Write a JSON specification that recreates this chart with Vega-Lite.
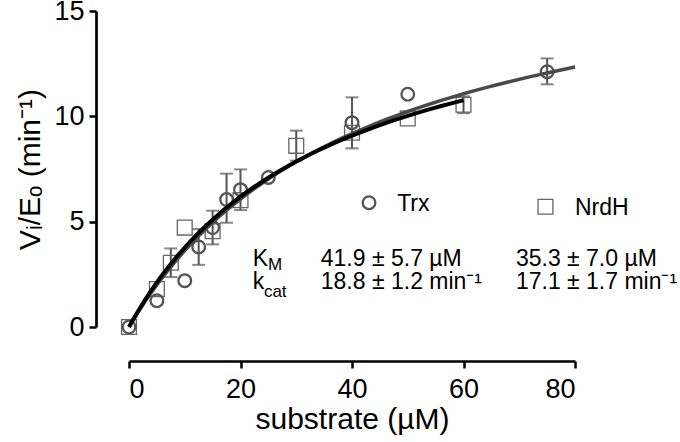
{
  "$schema": "https://vega.github.io/schema/vega-lite/v6.json",
  "width": 446,
  "height": 316,
  "autosize": {"type": "none"},
  "padding": {"left": 129, "top": 11, "right": 105, "bottom": 115},
  "background": "white",
  "config": {
    "view": {"stroke": null},
    "font": "Liberation Sans",
    "axis": {"grid": false, "domainColor": "black", "domainWidth": 2.7, "tickColor": "black", "tickWidth": 2.5, "tickSize": 7, "labelColor": "black", "labelFont": "Liberation Sans", "labelFontSize": 27, "titleFont": "Liberation Sans", "titleFontSize": 30, "titleFontWeight": "normal", "titleColor": "black"}
  },
  "datasets": {
    "curves": [
      {"series": "Trx", "s": 0, "v": 0}, {"series": "Trx", "s": 2, "v": 0.857}, {"series": "Trx", "s": 4, "v": 1.638}, {"series": "Trx", "s": 6, "v": 2.355}, {"series": "Trx", "s": 8, "v": 3.014}, {"series": "Trx", "s": 10, "v": 3.622}, {"series": "Trx", "s": 12, "v": 4.186}, {"series": "Trx", "s": 14, "v": 4.708}, {"series": "Trx", "s": 16, "v": 5.195}, {"series": "Trx", "s": 18, "v": 5.649}, {"series": "Trx", "s": 20, "v": 6.074}, {"series": "Trx", "s": 22, "v": 6.473}, {"series": "Trx", "s": 24, "v": 6.847}, {"series": "Trx", "s": 26, "v": 7.199}, {"series": "Trx", "s": 28, "v": 7.531}, {"series": "Trx", "s": 30, "v": 7.844}, {"series": "Trx", "s": 32, "v": 8.141}, {"series": "Trx", "s": 34, "v": 8.422}, {"series": "Trx", "s": 36, "v": 8.688}, {"series": "Trx", "s": 38, "v": 8.941}, {"series": "Trx", "s": 40, "v": 9.182}, {"series": "Trx", "s": 42, "v": 9.411}, {"series": "Trx", "s": 44, "v": 9.630}, {"series": "Trx", "s": 46, "v": 9.839}, {"series": "Trx", "s": 48, "v": 10.038}, {"series": "Trx", "s": 50, "v": 10.229}, {"series": "Trx", "s": 52, "v": 10.411}, {"series": "Trx", "s": 54, "v": 10.586}, {"series": "Trx", "s": 56, "v": 10.754}, {"series": "Trx", "s": 58, "v": 10.915}, {"series": "Trx", "s": 60, "v": 11.070}, {"series": "Trx", "s": 64, "v": 11.362}, {"series": "Trx", "s": 68, "v": 11.632}, {"series": "Trx", "s": 72, "v": 11.884}, {"series": "Trx", "s": 76, "v": 12.119}, {"series": "Trx", "s": 80, "v": 12.338},
      {"series": "NrdH", "s": 0, "v": 0}, {"series": "NrdH", "s": 1, "v": 0.471}, {"series": "NrdH", "s": 2, "v": 0.917}, {"series": "NrdH", "s": 4, "v": 1.740}, {"series": "NrdH", "s": 6, "v": 2.484}, {"series": "NrdH", "s": 8, "v": 3.159}, {"series": "NrdH", "s": 10, "v": 3.775}, {"series": "NrdH", "s": 12, "v": 4.338}, {"series": "NrdH", "s": 14, "v": 4.856}, {"series": "NrdH", "s": 16, "v": 5.333}, {"series": "NrdH", "s": 18, "v": 5.775}, {"series": "NrdH", "s": 20, "v": 6.184}, {"series": "NrdH", "s": 22, "v": 6.565}, {"series": "NrdH", "s": 24, "v": 6.921}, {"series": "NrdH", "s": 26, "v": 7.253}, {"series": "NrdH", "s": 28, "v": 7.564}, {"series": "NrdH", "s": 30, "v": 7.856}, {"series": "NrdH", "s": 32, "v": 8.131}, {"series": "NrdH", "s": 34, "v": 8.390}, {"series": "NrdH", "s": 36, "v": 8.634}, {"series": "NrdH", "s": 38, "v": 8.865}, {"series": "NrdH", "s": 40, "v": 9.084}, {"series": "NrdH", "s": 42, "v": 9.291}, {"series": "NrdH", "s": 44, "v": 9.488}, {"series": "NrdH", "s": 46, "v": 9.675}, {"series": "NrdH", "s": 48, "v": 9.854}, {"series": "NrdH", "s": 50, "v": 10.023}, {"series": "NrdH", "s": 52, "v": 10.186}, {"series": "NrdH", "s": 54, "v": 10.341}, {"series": "NrdH", "s": 56, "v": 10.489}, {"series": "NrdH", "s": 58, "v": 10.630}, {"series": "NrdH", "s": 60, "v": 10.766}
    ],
    "points": [
      {"series": "Trx", "s": 0, "v": 0},
      {"series": "Trx", "s": 5, "v": 1.25},
      {"series": "Trx", "s": 10, "v": 2.2},
      {"series": "Trx", "s": 12.5, "v": 3.8, "lo": 2.95, "hi": 4.65},
      {"series": "Trx", "s": 15, "v": 4.72, "lo": 3.92, "hi": 5.52},
      {"series": "Trx", "s": 17.5, "v": 6.05, "lo": 4.95, "hi": 7.28},
      {"series": "Trx", "s": 20, "v": 6.52, "lo": 5.55, "hi": 7.48},
      {"series": "Trx", "s": 25, "v": 7.1},
      {"series": "Trx", "s": 40, "v": 9.7, "lo": 8.48, "hi": 10.9},
      {"series": "Trx", "s": 50, "v": 11.05},
      {"series": "Trx", "s": 75, "v": 12.12, "lo": 11.52, "hi": 12.75},
      {"series": "NrdH", "s": 0, "v": 0},
      {"series": "NrdH", "s": 5, "v": 1.8},
      {"series": "NrdH", "s": 7.5, "v": 3.05, "lo": 2.37, "hi": 3.73},
      {"series": "NrdH", "s": 10, "v": 4.72},
      {"series": "NrdH", "s": 15, "v": 4.55},
      {"series": "NrdH", "s": 20, "v": 6.02},
      {"series": "NrdH", "s": 30, "v": 8.6, "lo": 7.9, "hi": 9.32},
      {"series": "NrdH", "s": 40, "v": 9.22},
      {"series": "NrdH", "s": 50, "v": 9.9},
      {"series": "NrdH", "s": 60, "v": 10.55, "lo": 10.15, "hi": 10.95}
    ]
  },
  "layer": [
    {
      "data": {"name": "points"},
      "transform": [{"filter": "isValid(datum.lo)"}],
      "mark": {"type": "rule", "color": "#555555", "strokeWidth": 2},
      "encoding": {
        "x": {"field": "s", "type": "quantitative", "scale": {"domain": [0, 80], "nice": false, "zero": false}, "axis": {"values": [0, 20, 40, 60, 80], "offset": 34, "labelPadding": 8, "titlePadding": 2, "title": "substrate (µM)"}},
        "y": {"field": "lo", "type": "quantitative", "scale": {"domain": [0, 15], "nice": false}, "axis": {"values": [0, 5, 10, 15], "offset": 33, "labelPadding": 5, "titlePadding": 8, "title": "Vᵢ/Eₒ (min⁻¹)"}},
        "y2": {"field": "hi"}
      }
    },
    {
      "data": {"name": "points"},
      "transform": [{"filter": "isValid(datum.lo)"}],
      "mark": {"type": "tick", "orient": "horizontal", "color": "#555555", "thickness": 2, "size": 13},
      "encoding": {
        "x": {"field": "s", "type": "quantitative"},
        "y": {"field": "lo", "type": "quantitative"}
      }
    },
    {
      "data": {"name": "points"},
      "transform": [{"filter": "isValid(datum.hi)"}],
      "mark": {"type": "tick", "orient": "horizontal", "color": "#555555", "thickness": 2, "size": 13},
      "encoding": {
        "x": {"field": "s", "type": "quantitative"},
        "y": {"field": "hi", "type": "quantitative"}
      }
    },
    {
      "data": {"name": "points"},
      "transform": [{"filter": "datum.series == 'NrdH'"}],
      "mark": {"type": "point", "shape": "square", "filled": false, "stroke": "#666666", "strokeWidth": 1.3, "size": 220, "opacity": 1},
      "encoding": {
        "x": {"field": "s", "type": "quantitative"},
        "y": {"field": "v", "type": "quantitative"}
      }
    },
    {
      "data": {"name": "points"},
      "transform": [{"filter": "datum.series == 'Trx'"}],
      "mark": {"type": "point", "shape": "circle", "filled": false, "stroke": "#555555", "strokeWidth": 2.3, "size": 160, "opacity": 1},
      "encoding": {
        "x": {"field": "s", "type": "quantitative"},
        "y": {"field": "v", "type": "quantitative"}
      }
    },
    {
      "data": {"name": "curves"},
      "transform": [{"filter": "datum.series == 'Trx'"}],
      "mark": {"type": "line", "color": "#4a4a4a", "strokeWidth": 3.5, "interpolate": "monotone"},
      "encoding": {
        "x": {"field": "s", "type": "quantitative"},
        "y": {"field": "v", "type": "quantitative"}
      }
    },
    {
      "data": {"name": "curves"},
      "transform": [{"filter": "datum.series == 'NrdH'"}],
      "mark": {"type": "line", "color": "#000000", "strokeWidth": 4, "interpolate": "monotone"},
      "encoding": {
        "x": {"field": "s", "type": "quantitative"},
        "y": {"field": "v", "type": "quantitative"}
      }
    },
    {
      "data": {"values": [{"s": 43.05, "v": 5.9}]},
      "mark": {"type": "point", "shape": "circle", "filled": false, "stroke": "#555555", "strokeWidth": 2.3, "size": 160, "opacity": 1},
      "encoding": {
        "x": {"field": "s", "type": "quantitative"},
        "y": {"field": "v", "type": "quantitative"}
      }
    },
    {
      "data": {"values": [{"s": 74.7, "v": 5.71}]},
      "mark": {"type": "point", "shape": "square", "filled": false, "stroke": "#666666", "strokeWidth": 1.3, "size": 220, "opacity": 1},
      "encoding": {
        "x": {"field": "s", "type": "quantitative"},
        "y": {"field": "v", "type": "quantitative"}
      }
    },
    {
      "data": {"values": [
        {"s": 48.1, "v": 5.49, "t": "Trx"},
        {"s": 80.0, "v": 5.32, "t": "NrdH"}
      ]},
      "mark": {"type": "text", "align": "left", "baseline": "alphabetic", "fontSize": 23, "color": "black"},
      "encoding": {
        "x": {"field": "s", "type": "quantitative"},
        "y": {"field": "v", "type": "quantitative"},
        "text": {"field": "t"}
      }
    },
    {
      "data": {"values": [
        {"s": 22.2, "v": 2.91, "t": "K"},
        {"s": 34.4, "v": 2.91, "t": "41.9 ± 5.7 µM"},
        {"s": 69.4, "v": 2.91, "t": "35.3 ± 7.0 µM"},
        {"s": 22.2, "v": 1.79, "t": "k"},
        {"s": 34.4, "v": 1.79, "t": "18.8 ± 1.2 min⁻¹"},
        {"s": 69.4, "v": 1.79, "t": "17.1 ± 1.7 min⁻¹"}
      ]},
      "mark": {"type": "text", "align": "left", "baseline": "alphabetic", "fontSize": 23, "color": "black"},
      "encoding": {
        "x": {"field": "s", "type": "quantitative"},
        "y": {"field": "v", "type": "quantitative"},
        "text": {"field": "t"}
      }
    },
    {
      "data": {"values": [
        {"s": 24.95, "v": 2.71, "t": "M"},
        {"s": 24.2, "v": 1.44, "t": "cat"}
      ]},
      "mark": {"type": "text", "align": "left", "baseline": "alphabetic", "fontSize": 17, "color": "black"},
      "encoding": {
        "x": {"field": "s", "type": "quantitative"},
        "y": {"field": "v", "type": "quantitative"},
        "text": {"field": "t"}
      }
    }
  ]
}
